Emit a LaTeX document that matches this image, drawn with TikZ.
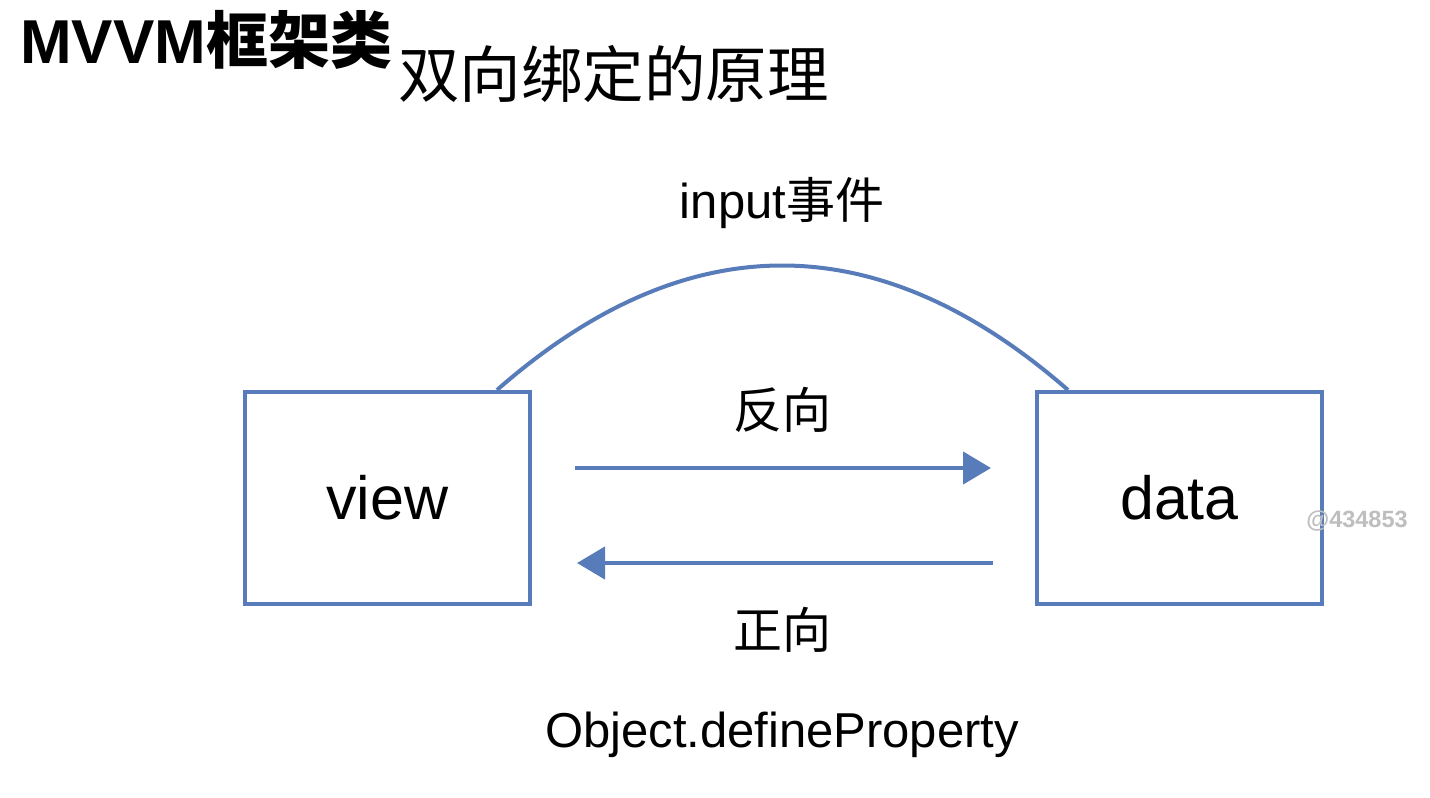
\documentclass[tikz,border=0pt]{standalone}
\usepackage{fontspec}
\setmainfont{Liberation Sans}
\newfontfamily\cjk{Noto Sans CJK SC}
\usetikzlibrary{arrows.meta}
\definecolor{linkblue}{RGB}{88,124,185}
\definecolor{wmgray}{RGB}{190,190,190}
\tikzset{
  box/.style={draw=linkblue, line width=4pt, minimum width=285pt, minimum height=212pt, inner sep=0pt, font=\fontsize{61}{61}\selectfont},
  arr/.style={draw=linkblue, line width=4.5pt, -{Triangle[length=28pt,width=32pt]}},
  arch/.style={draw=linkblue, line width=4pt},
  lbl/.style={inner sep=0pt, font=\fontsize{49}{49}\selectfont},
}
\begin{document}
\begin{tikzpicture}[x=1pt,y=-1pt]
\useasboundingbox (0,0) rectangle (1430,798);
\fill[white] (0,0) rectangle (1430,798);
% titles
\node[anchor=west, inner sep=0pt, font=\fontsize{62}{62}\selectfont\bfseries] (title) at (20,40) {MVVM{\cjk 框架类}};
\node[anchor=west, inner sep=0pt, font=\fontsize{61.5}{61.5}\selectfont\cjk] (sub) at (398,74) {双向绑定的原理};
% boxes
\node[box] (view) at (387.5,498) {view};
\node[box] (data) at (1179.5,498) {data};
% connectors
\draw[arr] ([shift={(43,-30)}]view.east) -- ([shift={(-44,-30)}]data.west);
\draw[arr] ([shift={(-42,65)}]data.west) -- ([shift={(45,65)}]view.east);
\draw[arch] ([xshift=-35pt]view.north east) .. controls (686,224) and (878,224) .. ([xshift=33pt]data.north west);
% labels
\node[lbl] (inp) at (782,203) {input{\cjk 事件}};
\node[lbl] (rev) at (782,410) {\cjk 反向};
\node[lbl] (fwd) at (782,630) {\cjk 正向};
\node[lbl] (obj) at (782,735) {Object.defineProperty};
% watermark
\node[inner sep=0pt, text=wmgray, font=\fontsize{23.5}{23.5}\selectfont\bfseries] (wm) at (1357,521) {@434853};
\end{tikzpicture}
\end{document}
